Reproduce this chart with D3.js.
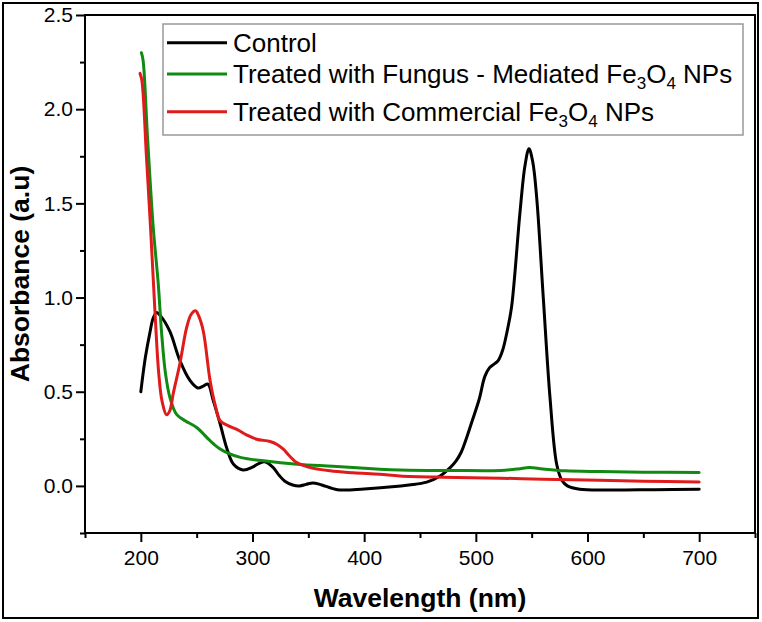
<!DOCTYPE html>
<html>
<head>
<meta charset="utf-8">
<script src="https://cdn.jsdelivr.net/npm/d3@7"></script>
<style>
  html, body { margin: 0; padding: 0; background: #fff; }
  svg { display: block; }
  text { font-family: "Liberation Sans", Arial, sans-serif; fill: #000; }
</style>
</head>
<body>
<div id="chart"></div>
<script>
// ---------- data ----------
const controlWl  = [200, 204, 208, 211, 214, 218, 226, 235, 244, 251, 256, 260, 265, 271, 277, 283, 291.5, 300, 306, 311, 318.6, 324, 329, 336, 342, 348, 354, 362, 376, 400, 425, 440, 456, 468, 477, 482, 487, 492, 497, 503, 508, 512, 516, 520, 524, 528, 532, 539.5, 544, 547.6, 551, 554.5, 560.4, 566.4, 572.4, 577, 582, 593, 620, 660, 700];
const controlAbs = [0.50, 0.68, 0.81, 0.89, 0.92, 0.90, 0.82, 0.665, 0.56, 0.52, 0.53, 0.54, 0.45, 0.33, 0.20, 0.115, 0.085, 0.10, 0.12, 0.128, 0.097, 0.055, 0.025, 0.005, 0.0, 0.008, 0.016, 0.005, -0.02, -0.016, -0.005, 0.005, 0.02, 0.053, 0.097, 0.13, 0.18, 0.26, 0.35, 0.46, 0.58, 0.625, 0.645, 0.665, 0.72, 0.82, 0.95, 1.45, 1.70, 1.79, 1.72, 1.53, 1.00, 0.47, 0.115, 0.03, 0.0, -0.018, -0.022, -0.02, -0.018];

const fungusWl  = [200.5, 202, 206, 211, 215.5, 218.5, 222, 226, 232, 240, 250, 262, 270, 277, 290, 310, 340, 372, 414, 432, 480, 522, 538, 548, 560, 580, 611, 650, 700];
const fungusAbs = [2.30, 2.26, 1.85, 1.38, 1.08, 0.82, 0.60, 0.47, 0.38, 0.345, 0.31, 0.24, 0.20, 0.177, 0.15, 0.133, 0.115, 0.104, 0.089, 0.085, 0.082, 0.082, 0.09, 0.098, 0.09, 0.08, 0.076, 0.073, 0.071];

const commercialWl  = [199.3, 201, 205, 208.8, 212.7, 216, 219, 223, 226, 229, 235, 241, 245, 249, 252, 256, 262, 267, 271, 278, 286, 295, 303.7, 315.7, 322, 327.6, 333, 339.6, 350, 369.4, 390, 414, 432, 470, 522, 560, 611, 650, 700];
const commercialAbs = [2.19, 2.15, 1.75, 1.36, 0.92, 0.60, 0.45, 0.378, 0.40, 0.49, 0.65, 0.84, 0.91, 0.93, 0.90, 0.82, 0.56, 0.42, 0.346, 0.32, 0.30, 0.27, 0.248, 0.236, 0.22, 0.195, 0.16, 0.124, 0.10, 0.08, 0.07, 0.062, 0.053, 0.046, 0.041, 0.036, 0.03, 0.025, 0.021];

const seriesNames = ["Control", "Treated with Fungus - Mediated Fe3O4 NPs", "Treated with Commercial Fe3O4 NPs"];
const seriesColors = ["#000000", "#118a11", "#e01b1b"];

const xMajorTicks = [200, 300, 400, 500, 600, 700];
const xMinorTicks = [150, 250, 350, 450, 550, 650, 750];
const yMajorTicks = [0.0, 0.5, 1.0, 1.5, 2.0, 2.5];
const yMinorTicks = [-0.25, 0.25, 0.75, 1.25, 1.75, 2.25];

const xTitle = "Wavelength (nm)";
const yTitle = "Absorbance (a.u)";

// ---------- layout ----------
const W = 762, H = 622;
const plot = { left: 85, right: 755, top: 15, bottom: 533 };

const svg = d3.select("#chart").append("svg").attr("width", W).attr("height", H);

// outer figure border
svg.append("rect").attr("x", 3).attr("y", 3).attr("width", 755).attr("height", 615)
  .attr("fill", "none").attr("stroke", "#000").attr("stroke-width", 2);

const x = d3.scaleLinear().domain([150, 750]).range([plot.left, plot.right]);
const y = d3.scaleLinear().domain([-0.25, 2.5]).range([plot.bottom, plot.top]);

// curves
const series = [
  { wl: controlWl, abs: controlAbs },
  { wl: fungusWl, abs: fungusAbs },
  { wl: commercialWl, abs: commercialAbs }
];
const line = d3.line().x(d => x(d[0])).y(d => y(d[1])).curve(d3.curveCatmullRom.alpha(0.5));
const gLines = svg.append("g");
[0, 1, 2].forEach(i => {
  const pts = series[i].wl.map((w, k) => [w, series[i].abs[k]]);
  gLines.append("path").datum(pts).attr("d", line)
    .attr("fill", "none").attr("stroke", seriesColors[i])
    .attr("stroke-width", 3).attr("stroke-linejoin", "round").attr("stroke-linecap", "round");
});

// axes
function styleAxis(g) {
  g.select(".domain").remove();
  g.selectAll(".tick line").attr("stroke", "#000").attr("stroke-width", 2);
  g.selectAll(".tick text").style("font-family", '"Liberation Sans", Arial, sans-serif').style("font-size", "21px").attr("fill", "#000");
}
svg.append("g").attr("transform", `translate(0,${plot.bottom})`)
  .call(d3.axisBottom(x).tickValues(xMajorTicks).tickSize(9).tickPadding(8).tickFormat(d3.format("d")))
  .call(styleAxis);
svg.append("g").attr("transform", `translate(0,${plot.bottom})`)
  .call(d3.axisBottom(x).tickValues(xMinorTicks).tickSize(5).tickFormat(""))
  .call(styleAxis);
svg.append("g").attr("transform", `translate(${plot.left},0)`)
  .call(d3.axisLeft(y).tickValues(yMajorTicks).tickSize(9).tickPadding(3).tickFormat(d3.format(".1f")))
  .call(styleAxis);
svg.append("g").attr("transform", `translate(${plot.left},0)`)
  .call(d3.axisLeft(y).tickValues(yMinorTicks).tickSize(5).tickFormat(""))
  .call(styleAxis);

// plot frame
svg.append("rect").attr("x", plot.left).attr("y", plot.top)
  .attr("width", plot.right - plot.left).attr("height", plot.bottom - plot.top)
  .attr("fill", "none").attr("stroke", "#000").attr("stroke-width", 2);

// axis titles
svg.append("text").attr("x", (plot.left + plot.right) / 2).attr("y", 607)
  .attr("text-anchor", "middle").style("font-weight", "bold").style("font-size", "26.5px").text(xTitle);
svg.append("text").attr("transform", `translate(29,${(plot.top + plot.bottom) / 2}) rotate(-90)`)
  .attr("text-anchor", "middle").style("font-weight", "bold").style("font-size", "26.5px").text(yTitle);

// legend
const leg = svg.append("g");
leg.append("rect").attr("x", 163).attr("y", 24).attr("width", 580).attr("height", 111)
  .attr("fill", "#fff").attr("stroke", "#999").attr("stroke-width", 1.5);
const rowY = [42.7, 74, 111.7];
seriesNames.forEach((name, i) => {
  leg.append("line").attr("x1", 167).attr("x2", 227).attr("y1", rowY[i]).attr("y2", rowY[i])
    .attr("stroke", seriesColors[i]).attr("stroke-width", 3);
  const t = leg.append("text").attr("x", 233).attr("y", rowY[i] + 9).style("font-size", "26px");
  const tokens = [];
  name.split(/(Fe3O4)/).forEach(p => {
    if (p === "Fe3O4") tokens.push(["Fe", false], ["3", true], ["O", false], ["4", true]);
    else if (p.length) tokens.push([p, false]);
  });
  let sub = false;
  tokens.forEach(([txt, isSub]) => {
    const ts = t.append("tspan").text(txt);
    if (isSub && !sub) ts.attr("dy", 6);
    if (!isSub && sub) ts.attr("dy", -6);
    if (isSub) ts.style("font-size", "17px");
    sub = isSub;
  });
});
</script>
</body>
</html>
